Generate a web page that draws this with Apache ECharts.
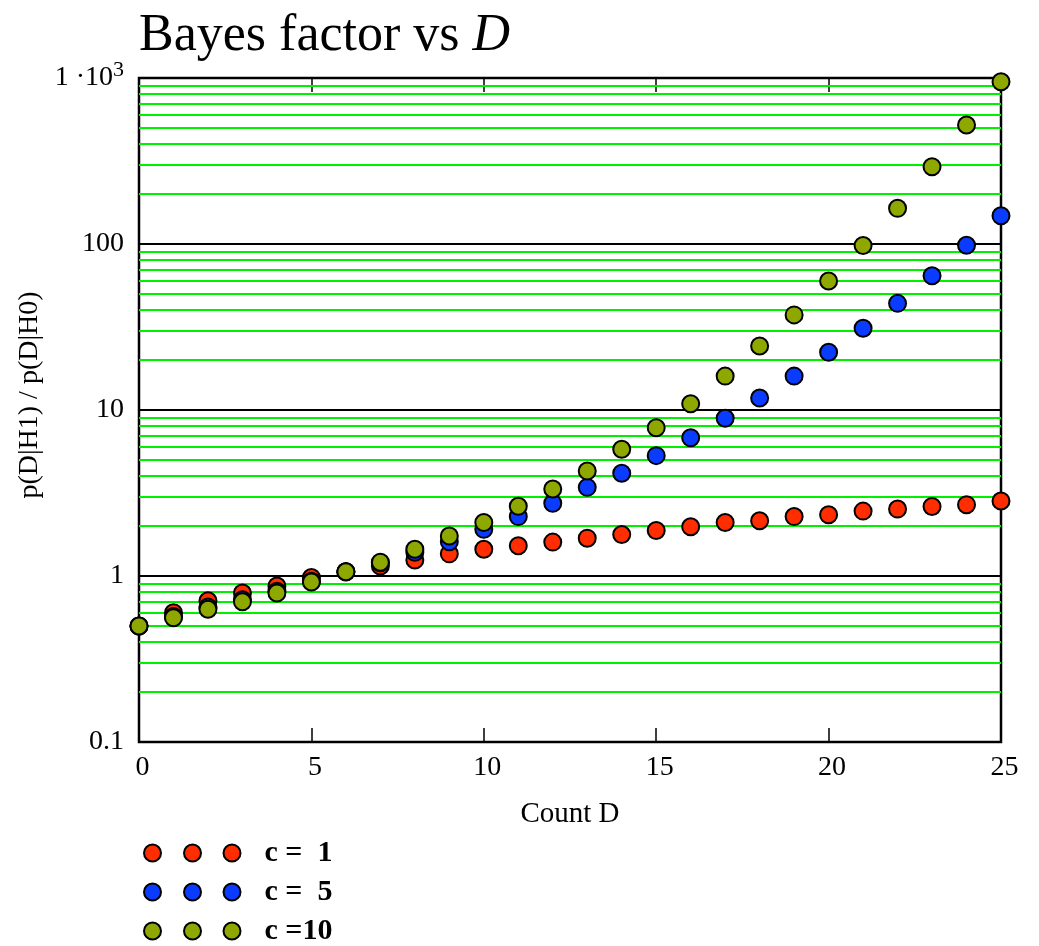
<!DOCTYPE html>
<html>
<head>
<meta charset="utf-8">
<script src="https://cdn.jsdelivr.net/npm/echarts@6/dist/echarts.min.js"></script>
<style>
html,body{margin:0;padding:0;background:#fff;}
#main{width:1039px;height:946px;}
</style>
</head>
<body>
<div id="main"></div>
<script>
// Count D, 0..25
var countD = [0,1,2,3,4,5,6,7,8,9,10,11,12,13,14,15,16,17,18,19,20,21,22,23,24,25];
// p(D|H1)/p(D|H0)
var bfC1 = [0.50,0.60,0.71,0.79,0.87,0.98,1.06,1.15,1.25,1.36,1.45,1.52,1.60,1.69,1.78,1.88,1.98,2.10,2.15,2.28,2.34,2.46,2.53,2.62,2.69,2.83];
var bfC5 = [0.50,0.57,0.65,0.72,0.81,0.93,1.06,1.20,1.39,1.61,1.91,2.28,2.74,3.42,4.16,5.31,6.81,8.91,11.8,16.0,22.3,31.1,43.9,64.4,98.2,148];
var bfC10 = [0.50,0.56,0.63,0.70,0.79,0.92,1.06,1.21,1.45,1.74,2.10,2.63,3.34,4.29,5.80,7.82,10.9,16.0,24.3,37.4,59.8,97.9,164,292,521,950];
var seriesNames = ['c =  1', 'c =  5', 'c =10'];
var seriesColors = ['#ff2d00', '#0a3cff', '#8fa800'];
var yTicks = [0.1, 1, 10, 100, 1000];

// green minor grid: 2..9 in every decade
var minorLines = [];
for (var e = 0; e < yTicks.length - 1; e++) {
    for (var k = 2; k <= 9; k++) {
        minorLines.push(+(k * yTicks[e]).toPrecision(3));
    }
}

var serif = 'Liberation Serif';
//图例: 三个圆点
var threeDots = 'path://M0,8.5A8.5,8.5 0 1,1 17,8.5A8.5,8.5 0 1,1 0,8.5Z' +
    'M40,8.5A8.5,8.5 0 1,1 57,8.5A8.5,8.5 0 1,1 40,8.5Z' +
    'M79.5,8.5A8.5,8.5 0 1,1 96.5,8.5A8.5,8.5 0 1,1 79.5,8.5Z';

function pairs(vals){
    var out = [];
    for (var i = 0; i < countD.length; i++) {
        out.push([countD[i], vals[i]]);
    }
    return out;
}

var allVals = [bfC1, bfC5, bfC10];
var series = [{
    type: 'line',
    data: [],
    silent: true,
    z: 1,
    markLine: {
        z: 1,
        silent: true,
        animation: false,
        symbol: ['none', 'none'],
        label: {show: false},
        lineStyle: {color: '#00f000', width: 2, type: 'solid'},
        data: minorLines.map(function(v){ return {yAxis: v}; })
    }
}];
for (var s = 0; s < allVals.length; s++) {
    series.push({
        name: seriesNames[s],
        type: 'scatter',
        z: 10 + s,
        symbol: 'circle',
        symbolSize: 17,
        itemStyle: {
            color: seriesColors[s],
            borderColor: '#000',
            borderWidth: 2,
            opacity: 1
        },
        data: pairs(allVals[s])
    });
}

var myChart = echarts.init(document.getElementById('main'));
var option = {
    backgroundColor: '#fff',
    animation: false,
    title: {
        text: 'Bayes factor vs {i|D}',
        left: 134,
        top: 5,
        textStyle: {
            fontFamily: serif,
            fontSize: 52,
            fontWeight: 'normal',
            color: '#000',
            rich: {
                i: {fontFamily: serif, fontSize: 52, fontStyle: 'italic', color: '#000'}
            }
        }
    },
    grid: {
        left: 139,
        right: 38,
        top: 78,
        bottom: 204,
        show: true,
        borderColor: '#000',
        borderWidth: 2.5
    },
    legend: {
        orient: 'vertical',
        left: 138,
        top: 833,
        height: 200,
        itemWidth: 96.5,
        itemHeight: 17,
        itemGap: 9,
        icon: threeDots,
        data: seriesNames,
        textStyle: {
            fontFamily: serif,
            fontSize: 30,
            fontWeight: 'bold',
            color: '#000',
            lineHeight: 17,
            padding: [10, 0, 0, 19]
        }
    },
    xAxis: [{
        type: 'value',
        min: 0,
        max: 25,
        interval: 5,
        name: 'Count D',
        nameLocation: 'middle',
        nameGap: 58,
        nameTextStyle: {fontFamily: serif, fontSize: 29, color: '#000'},
        axisLine: {show: false},
        axisTick: {show: true, inside: true, length: 14, lineStyle: {color: '#000', width: 1.5}},
        axisLabel: {fontFamily: serif, fontSize: 28, color: '#000', margin: 12, padding: [0, 0, 0, 7]},
        splitLine: {show: false}
    }, {
        type: 'value',
        position: 'top',
        min: 0,
        max: 25,
        interval: 5,
        axisLine: {show: false},
        axisTick: {show: true, inside: true, length: 14, lineStyle: {color: '#000', width: 1.5}},
        axisLabel: {show: false},
        splitLine: {show: false}
    }],
    yAxis: {
        type: 'log',
        logBase: 10,
        min: 0.1,
        max: 1000,
        name: 'p(D|H1) / p(D|H0)',
        nameLocation: 'middle',
        nameGap: 88,
        nameTextStyle: {fontFamily: serif, fontSize: 28, color: '#000', padding: [0, 0, 0, 30]},
        axisLine: {show: false},
        axisTick: {show: false},
        axisLabel: {
            fontFamily: serif,
            fontSize: 28,
            color: '#000',
            margin: 15,
            formatter: function(v){
                if (v >= 1000) return '1 \u00b710{sup|3}';
                return String(+v.toPrecision(3));
            },
            rich: {
                sup: {fontFamily: serif, fontSize: 22, color: '#000', padding: [0, 0, 16, 0]}
            }
        },
        splitLine: {show: true, lineStyle: {color: '#000', width: 2}}
    },
    series: series
};
myChart.setOption(option);
</script>
</body>
</html>
